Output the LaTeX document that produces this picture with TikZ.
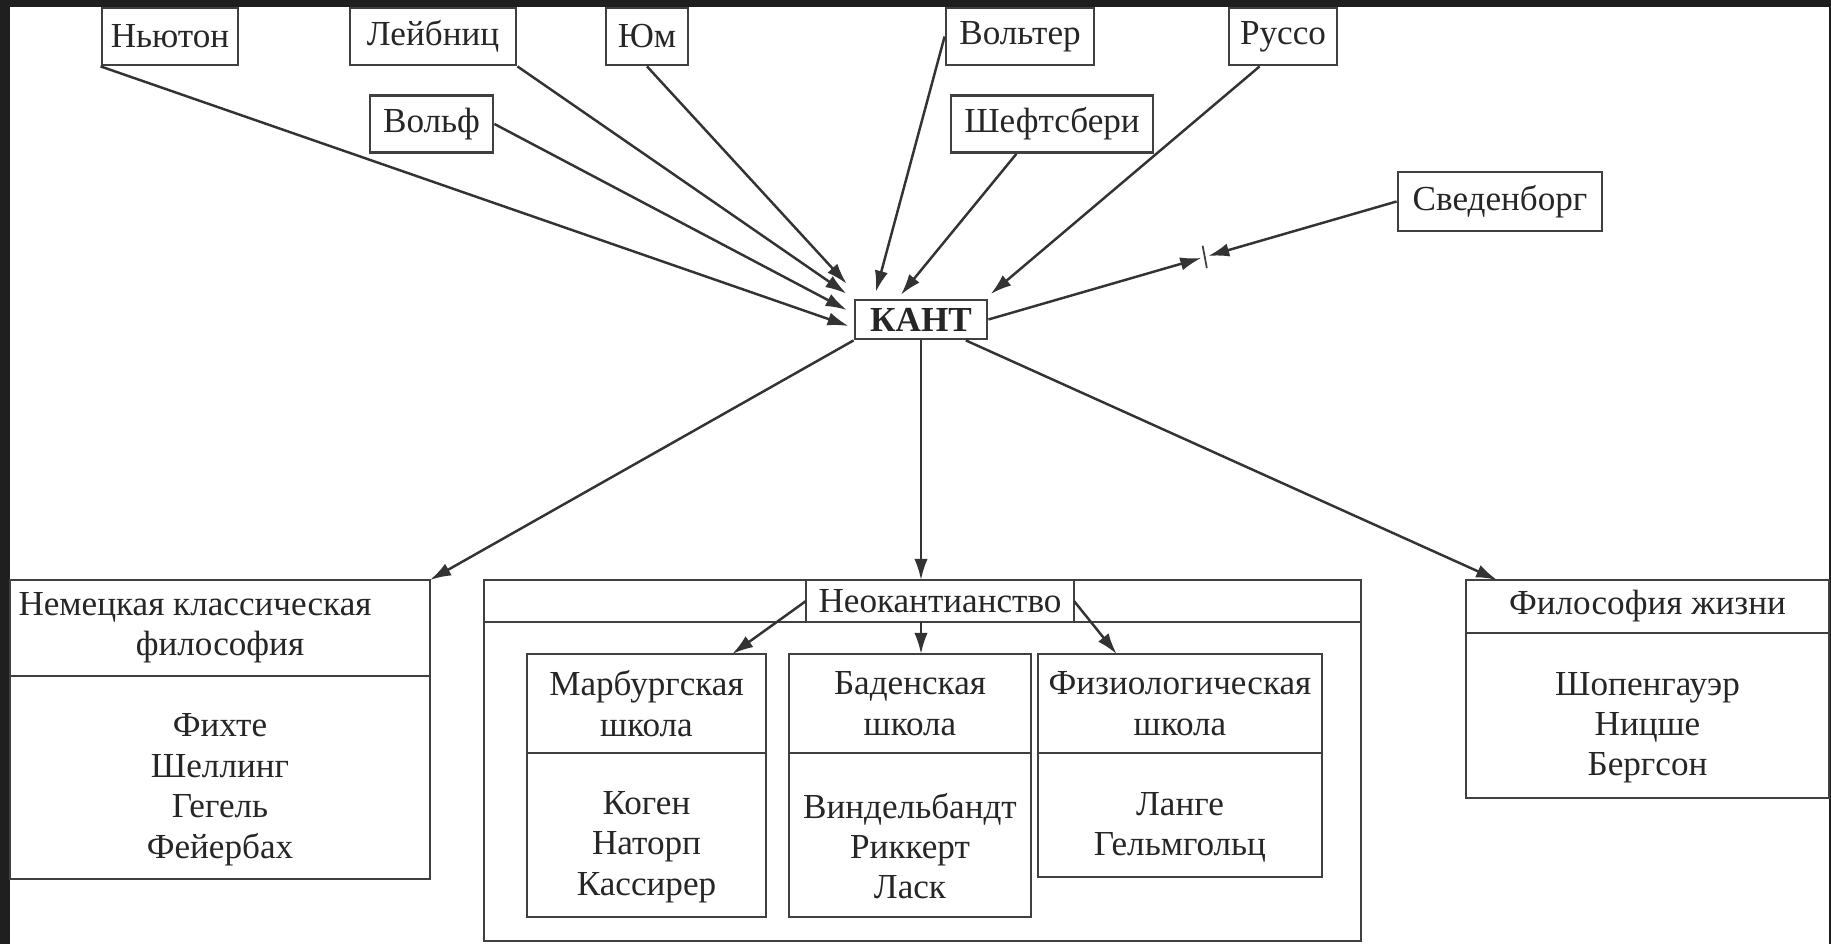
\documentclass[tikz,border=0pt]{standalone}
\usepackage{fontspec}
\setmainfont{Liberation Serif}
\usepackage{tikz}
\usetikzlibrary{arrows.meta,positioning,calc}

\newcommand\lowstrut{\rule{0pt}{13.5pt}}
\tikzset{
  thinker/.style={draw=black!75, line width=0.8pt, minimum height=0.57cm, inner sep=1pt, text=black!85},
  kantbox/.style={thinker, minimum height=0.39cm, font=\bfseries\fontsize{10}{12}\selectfont},
  head/.style={draw=black!75, line width=0.8pt, align=center, outer sep=0pt, inner sep=1pt, text=black!85},
  divider/.style={draw=black!75, line width=0.8pt},
  arr/.style={draw=black!80, line width=0.7pt, -{Latex[length=6pt,width=3.8pt]}}
}

\begin{document}
\begin{tikzpicture}[x=0.1mm,y=0.1mm]
\tikzstyle{every node}+=[font=\fontsize{10}{11.5}\selectfont]
\fill [black!88] (0,0) rectangle (1831,-944);
\fill [white] (10,-7) rectangle (1829,-944);
\node [thinker, minimum width=1.36cm] (newton) at (170,-36.5) {Ньютон};
\node [thinker, minimum width=1.66cm] (leibniz) at (433,-36.5) {Лейбниц};
\node [thinker, minimum width=0.82cm] (hume) at (647,-36.5) {Юм};
\node [thinker, minimum width=1.48cm] (voltaire) at (1020,-36.5) {Вольтер};
\node [thinker, minimum width=1.08cm] (rousseau) at (1283,-36.5) {Руссо};
\node [thinker, minimum width=1.23cm] (wolff) at (431.5,-124) {Вольф};
\node [thinker, minimum width=2.02cm] (shaftesbury) at (1052,-124) {Шефтсбери};
\node [thinker, minimum width=2.04cm, minimum height=0.59cm] (swedenborg) at (1500,-201.5) {Сведенборг};
\node [kantbox, minimum width=1.32cm] (kant) at (921,-319.5) {КАНТ};
\node [head, minimum width=4.2cm, minimum height=0.96cm] (nemtitle) at (220,-628) {\hspace*{-5mm}Немецкая классическая\\философия};
\node [head, minimum width=4.2cm, minimum height=2.03cm, below=0pt of nemtitle] (nembody) {\lowstrut Фихте\\Шеллинг\\Гегель\\Фейербах};
\node [head, minimum width=8.77cm, minimum height=3.61cm] (neo) at (922.5,-760.5) {};
\node [head, minimum width=2.68cm, minimum height=0.42cm] (neotitle) at (940,-601) {Неокантианство};
\draw [divider] (neo.west |- neotitle.south) -- (neo.east |- neotitle.south);
\node [head, minimum width=2.39cm, minimum height=0.99cm] (marburg) at (646.5,-703.5) {Марбургская\\школа};
\node [head, minimum width=2.39cm, minimum height=1.64cm, below=0pt of marburg] (marburgbody) {\lowstrut Коген\\Наторп\\Кассирер};
\node [head, minimum width=2.42cm, minimum height=0.99cm] (baden) at (910,-703.5) {Баденская\\школа};
\node [head, minimum width=2.42cm, minimum height=1.64cm, below=0pt of baden] (badenbody) {\lowstrut Виндельбандт\\Риккерт\\Ласк};
\node [head, minimum width=2.84cm, minimum height=0.99cm] (physio) at (1180,-703.5) {Физиологическая\\школа};
\node [head, minimum width=2.84cm, minimum height=1.24cm, below=0pt of physio] (physiobody) {\lowstrut Ланге\\Гельмгольц};
\node [head, minimum width=3.63cm, minimum height=0.53cm] (life) at (1647.5,-606.5) {Философия жизни};
\node [head, minimum width=3.63cm, minimum height=1.65cm, below=0pt of life] (lifebody) {\lowstrut Шопенгауэр\\Ницше\\Бергсон};
\draw [arr, shorten >=1.5pt] (newton.south west) -- (kant.187);
\draw [arr, shorten >=2.2pt] (wolff.east) -- (kant.175);
\draw [arr, shorten >=2.5pt] (leibniz.south east) -- (kant.north west);
\draw [arr, shorten >=5.7pt] (hume.south) -- (kant.161);
\draw [arr, shorten >=2pt] (voltaire.west) -- (kant.156);
\draw [arr, shorten >=1.4pt] (shaftesbury.220) -- (kant.138);
\draw [arr, shorten >=2pt] (rousseau.232) -- (kant.18);
\coordinate (bar) at ($(kant.east)!0.53!(swedenborg.west)$);
\draw [arr, shorten >=1pt] (kant.east) -- (bar);
\draw [arr, shorten >=1pt] (swedenborg.west) -- (bar);
\draw [divider, line width=0.5pt] ([xshift=-0.6pt,yshift=3.2pt]bar) -- ([xshift=0.6pt,yshift=-3.2pt]bar);
\draw [arr] (kant.south west) -- (nemtitle.north east);
\draw [arr] (kant.south) -- (kant.south |- neo.north);
\draw [arr] (kant.335) -- (life.170);
\draw [arr] (neotitle.west) -- (marburg.30);
\draw [arr] (kant.south |- neotitle.south) -- (kant.south |- baden.north);
\draw [arr] (neotitle.east) -- (physio.142);
\end{tikzpicture}
\end{document}
